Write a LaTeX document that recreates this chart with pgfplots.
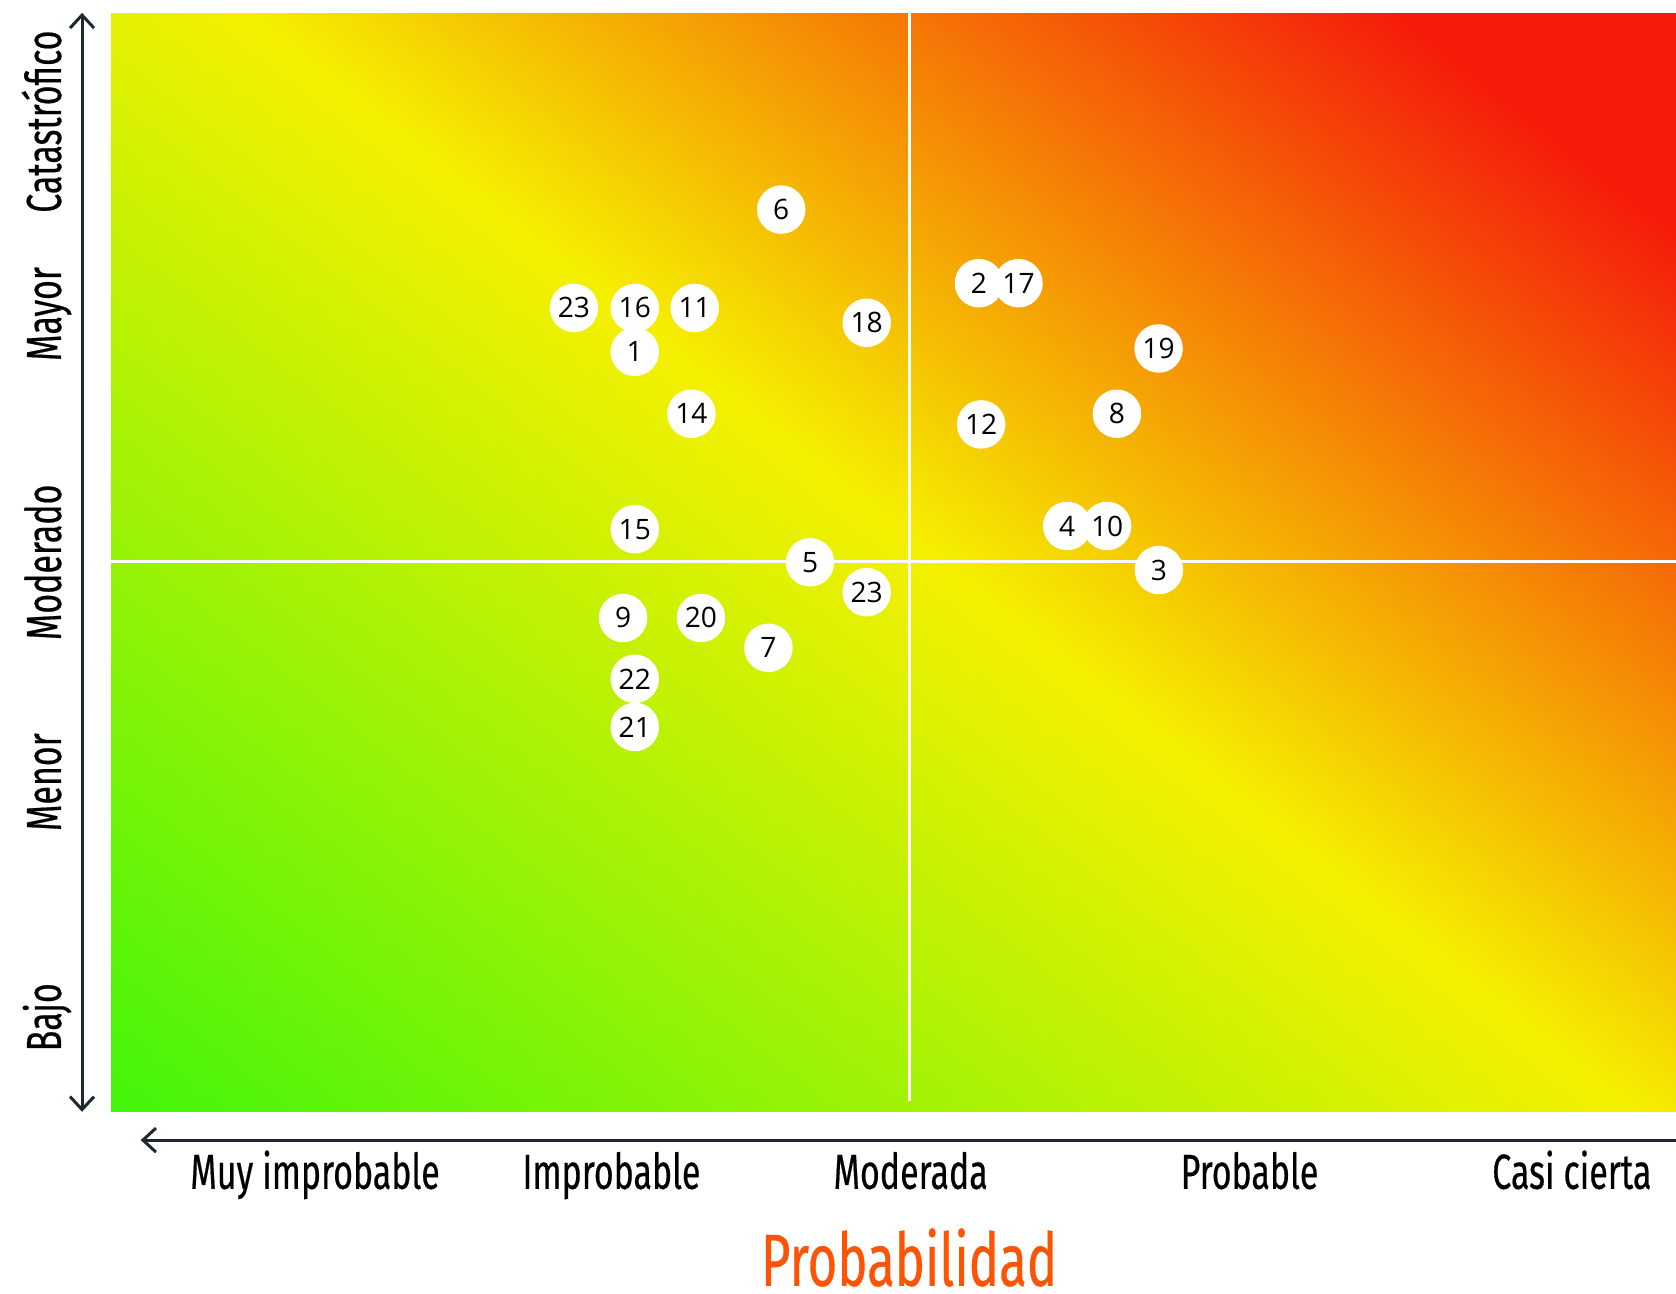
\documentclass[border=0pt]{standalone}
\usepackage{fontspec}
\setmainfont[FakeStretch=0.69, FakeBold=0.4]{Fira Sans}
\newfontfamily\numfont{Open Sans}
\usepackage{pgfplots}
\usepackage{pgfplotstable}
\pgfplotsset{compat=1.18}
\usetikzlibrary{arrows.meta}

\definecolor{arrowcol}{RGB}{30,40,51}
\definecolor{titlecol}{RGB}{252,84,4}

% background gradient; triangles split along the colour stops so each one stays in one segment
\pgfplotstableread{
x y c
0 0 0
97.4 0 0.5
8.6 100 0.5
0 0 0
8.6 100 0.5
0 100 0.456
97.4 0 0.5
100 0 0.513
100 80.6 0.88
97.4 0 0.5
100 80.6 0.88
82.7 100 0.88
97.4 0 0.5
82.7 100 0.88
8.6 100 0.5
100 80.6 0.88
100 100 0.969
82.7 100 0.88
}\bgdata

% risks: probability (x), impact (y), id
\pgfplotstableread{
x y lbl
42.83 82.1 6
55.46 75.4 2
57.99 75.4 17
29.58 73.15 23
33.47 73.15 16
37.30 73.15 11
48.29 71.8 18
66.94 69.46 19
33.47 69.16 1
37.09 63.52 14
64.28 63.52 8
55.60 62.55 12
33.47 53.02 15
61.10 53.31 4
63.65 53.31 10
44.67 50.0 5
66.96 49.30 3
48.29 47.28 23
32.72 44.94 9
37.70 44.94 20
42.01 42.22 7
33.47 39.40 22
33.47 35.02 21
}\risks

\begin{document}
\begin{tikzpicture}
\useasboundingbox (-1.11,-1.813) rectangle (15.65,11.118);
\begin{axis}[
    at={(0,0)}, anchor=south west,
    x=0.1565cm, y=0.1099cm,
    xmin=0, xmax=100, ymin=0, ymax=100,
    clip=false,
    axis line style={draw=none},
    major tick length=0pt,
    colormap={riskmap}{rgb255(0cm)=(66,245,10); rgb255(5cm)=(245,240,0); rgb255(8.8cm)=(245,26,10); rgb255(10cm)=(245,26,10)},
    point meta min=0, point meta max=1,
    xtick={13.04,31.98,51.1,72.75,93.35},
    xticklabels={Muy improbable, Improbable, Moderada, Probable, Casi cierta},
    ytick={8.6,30.0,50.0,72.6,90.1},
    yticklabels={Bajo, Menor, Moderado, Mayor, Catastrófico},
    ticklabel style={font=\fontsize{14}{16}\selectfont, text=black},
    xticklabel style={anchor=base, yshift=-0.77cm},
    yticklabel style={xshift=-0.50cm, rotate=90, anchor=base},
    xlabel={Probabilidad},
    xlabel style={at={(axis description cs:0.51,0)}, anchor=base, inner sep=0pt,
        yshift=-1.74cm, font=\fontsize{21}{24}\selectfont, text=titlecol},
]
\addplot[patch, shader=interp, point meta=explicit] table[meta=c] {\bgdata};

\addplot[white, line width=0.9pt] coordinates {(51.0,1) (51.0,100)};
\addplot[white, line width=0.9pt] coordinates {(0,50.1) (100,50.1)};

\addplot[only marks, mark=*, mark size=6.7pt, draw=white, fill=white,
    mark options={draw=white, fill=white},
    point meta=explicit symbolic,
    nodes near coords,
    every node near coord/.append style={anchor=center, inner sep=0pt,
        font=\numfont\fontsize{8}{9}\selectfont, text=black},
] table[meta=lbl] {\risks};

\draw[arrowcol, line width=0.85pt,
    {Straight Barb[length=1.3mm,width=2.4mm]}-{Straight Barb[length=1.3mm,width=2.4mm]}]
    (axis cs:-1.85,100) -- (axis cs:-1.85,0);
\draw[arrowcol, line width=0.85pt, {Straight Barb[length=1.3mm,width=2.4mm]}-]
    (axis cs:1.9,-2.575) -- (axis cs:100,-2.575);
\end{axis}
\end{tikzpicture}
\end{document}
